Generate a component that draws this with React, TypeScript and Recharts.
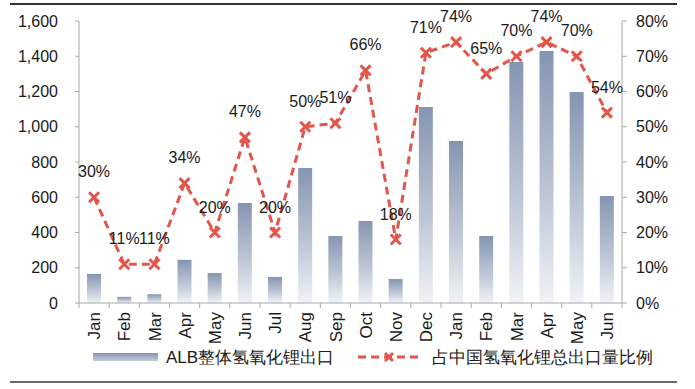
import React from 'react';
import { ComposedChart, Bar, Line, XAxis, YAxis, LabelList } from 'recharts';

const months = ['Jan', 'Feb', 'Mar', 'Apr', 'May', 'Jun', 'Jul', 'Aug', 'Sep', 'Oct', 'Nov', 'Dec', 'Jan', 'Feb', 'Mar', 'Apr', 'May', 'Jun'];
const albExport = [165, 35, 50, 245, 170, 567, 148, 766, 380, 465, 136, 1112, 919, 380, 1367, 1430, 1197, 607];
const sharePct = [30, 11, 11, 34, 20, 47, 20, 50, 51, 66, 18, 71, 74, 65, 70, 74, 70, 54];
const leftTicks = [0, 200, 400, 600, 800, 1000, 1200, 1400, 1600];
const rightTicks = [0, 10, 20, 30, 40, 50, 60, 70, 80];

const data = months.map((m, i) => ({ month: m, alb: albExport[i], share: sharePct[i] }));

const FONT = '"Liberation Sans", Arial, sans-serif';
const RED = '#e2564b';
const AXIS = '#a8a8a8';
const TICK_GAP = 9;

const MonthTick = (props: any) => {
  const { x, y, payload, index, visibleTicksCount } = props;
  const half = payload && payload.offset ? payload.offset : 15;
  const top = y - TICK_GAP;
  return (
    <g>
      <line x1={x - half} y1={top} x2={x - half} y2={top + 5} stroke={AXIS} />
      {index === visibleTicksCount - 1 && (
        <line x1={x + half} y1={top} x2={x + half} y2={top + 5} stroke={AXIS} />
      )}
      <text
        x={x}
        y={y}
        transform={`rotate(-90, ${x}, ${y})`}
        dy="0.36em"
        textAnchor="end"
        fontSize={17}
        fill="#1a1a1a"
        fontFamily={FONT}
      >
        {payload.value}
      </text>
    </g>
  );
};

const CrossDot = (props: any) => {
  const { cx, cy, index } = props;
  if (cx == null || cy == null) return <g key={index} />;
  const s = 5;
  return (
    <g key={index}>
      <line x1={cx - s} y1={cy - s} x2={cx + s} y2={cy + s} stroke={RED} strokeWidth={3} />
      <line x1={cx - s} y1={cy + s} x2={cx + s} y2={cy - s} stroke={RED} strokeWidth={3} />
    </g>
  );
};

export default function App() {
  return (
    <div style={{ position: 'absolute', left: 0, top: 0, width: 695, height: 389, background: '#fff', fontFamily: FONT }}>
      <div style={{ position: 'absolute', left: 10, top: 3, width: 667, height: 2, background: '#333' }} />
      <div style={{ position: 'absolute', left: 10, top: 381, width: 667, height: 2, background: '#6a6a6a' }} />
      <ComposedChart
        width={695}
        height={389}
        data={data}
        margin={{ top: 21, right: 0, bottom: 0, left: 0 }}
        style={{ fontFamily: FONT }}
      >
        <defs>
          <linearGradient id="barGrad" x1="0" y1="0" x2="0" y2="1">
            <stop offset="0%" stopColor="#8595b1" />
            <stop offset="55%" stopColor="#bcc5d5" />
            <stop offset="100%" stopColor="#f0f2f6" />
          </linearGradient>
        </defs>
        <XAxis
          dataKey="month"
          height={86}
          interval={0}
          tickLine={false}
          axisLine={{ stroke: AXIS }}
          tickSize={0}
          tickMargin={TICK_GAP}
          tick={<MonthTick />}
        />
        <YAxis
          yAxisId="left"
          width={79}
          domain={[0, 1600]}
          ticks={leftTicks}
          tickFormatter={(v: number) => v.toLocaleString('en-US')}
          axisLine={{ stroke: AXIS }}
          tickLine={{ stroke: AXIS }}
          tickSize={4}
          tickMargin={17}
          tick={{ fontSize: 16, fill: '#1a1a1a' }}
        />
        <YAxis
          yAxisId="right"
          orientation="right"
          width={73}
          domain={[0, 80]}
          ticks={rightTicks}
          tickFormatter={(v: number) => `${v}%`}
          axisLine={{ stroke: AXIS }}
          tickLine={{ stroke: AXIS }}
          tickSize={5}
          tickMargin={9}
          tick={{ fontSize: 16, fill: '#1a1a1a', textAnchor: 'start' }}
        />
        <Bar yAxisId="left" dataKey="alb" barSize={14} fill="url(#barGrad)" isAnimationActive={false} />
        <Line
          yAxisId="right"
          dataKey="share"
          stroke={RED}
          strokeWidth={3}
          strokeDasharray="8 5"
          dot={<CrossDot />}
          activeDot={false}
          isAnimationActive={false}
        >
          <LabelList
            dataKey="share"
            position="top"
            offset={20}
            formatter={(v: any) => `${v}%`}
            style={{ fontSize: 16, fill: '#1a1a1a', fontFamily: FONT }}
          />
        </Line>
      </ComposedChart>
      <div
        style={{
          position: 'absolute',
          left: 93,
          top: 353,
          width: 65,
          height: 8,
          background: 'linear-gradient(to bottom, #8595b1, #c5cddb)',
        }}
      />
      <div style={{ position: 'absolute', left: 166, top: 347, fontSize: 17, lineHeight: '22px', color: '#1a1a1a', whiteSpace: 'nowrap' }}>
        ALB整体氢氧化锂出口
      </div>
      <svg style={{ position: 'absolute', left: 355, top: 348 }} width={68} height={18}>
        <line x1={3} y1={9} x2={64} y2={9} stroke={RED} strokeWidth={3} strokeDasharray="8 5" />
        <line x1={30} y1={5} x2={38} y2={13} stroke={RED} strokeWidth={3} />
        <line x1={30} y1={13} x2={38} y2={5} stroke={RED} strokeWidth={3} />
      </svg>
      <div style={{ position: 'absolute', left: 432, top: 347, fontSize: 17, lineHeight: '22px', color: '#1a1a1a', whiteSpace: 'nowrap' }}>
        占中国氢氧化锂总出口量比例
      </div>
    </div>
  );
}
